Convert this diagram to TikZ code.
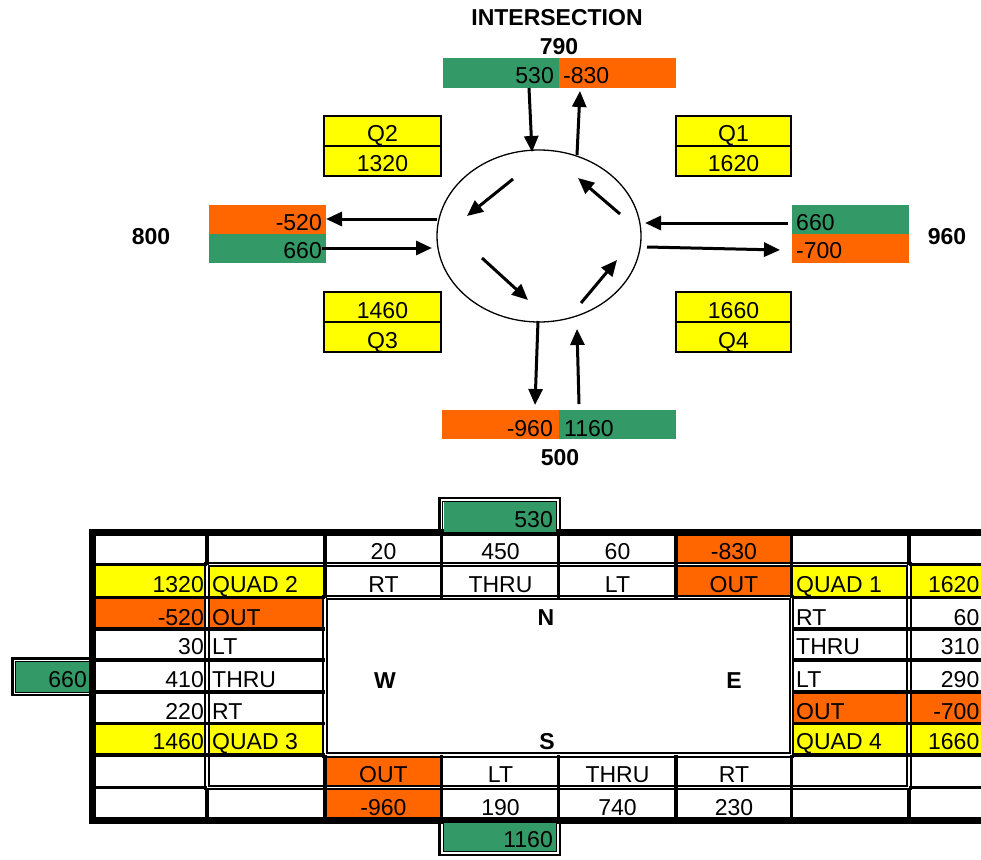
\documentclass[tikz,border=0pt]{standalone}
\usepackage{fontspec}
\setmainfont{Liberation Sans}
\usetikzlibrary{arrows.meta,shapes.geometric}
\definecolor{xgreen}{HTML}{339966}
\definecolor{xorange}{HTML}{FF6600}
\definecolor{xyellow}{HTML}{FFFF00}
\begin{document}
\begin{tikzpicture}[x=1pt,y=-1pt,
  lbl/.style={font=\fontsize{23}{27}\selectfont, inner sep=0pt, anchor=base},
  lblr/.style={lbl, anchor=base east},
  lbll/.style={lbl, anchor=base west},
  boldlbl/.style={lbl, font=\fontsize{23}{27}\selectfont\bfseries},
  arr/.style={line width=3pt, -{Triangle[length=16pt,width=14pt]}},
  gline/.style={line width=3.2pt},
  dbl/.style={line width=2.1pt, double=white, double distance=1.5pt},
  qbox/.style={draw, line width=2.4pt, fill=xyellow}]
\useasboundingbox (0,0) rectangle (981,859);

% ---------- top diagram ----------
\node[boldlbl] (title) at (557,26) {INTERSECTION};
\node[boldlbl] (nval) at (559,55) {790};
\fill[xgreen] (443,58) rectangle (559,88);
\fill[xorange] (559,58) rectangle (676,88);
\node[lblr] (nin) at (554,83) {530};
\node[lbll] (nout) at (563,83) {-830};

\fill[xorange] (209,205) rectangle (326,234);
\fill[xgreen] (209,234) rectangle (326,263);
\node[lblr] (wout) at (322,230) {-520};
\node[lblr] (win) at (322,258) {660};
\node[boldlbl] (wval) at (151,244) {800};

\fill[xgreen] (792,205) rectangle (909,234);
\fill[xorange] (792,234) rectangle (909,263);
\node[lbll] (ein) at (796,230) {660};
\node[lbll] (eout) at (796,258) {-700};
\node[boldlbl] (eval) at (947,244) {960};

\fill[xorange] (442,410) rectangle (559,439);
\fill[xgreen] (559,410) rectangle (676,439);
\node[lblr] (sout) at (553,436) {-960};
\node[lbll] (sin) at (564,436) {1160};
\node[boldlbl] (sval) at (560,465) {500};

% quadrant boxes
\draw[qbox] (324,116) rectangle (441,146);
\draw[qbox] (324,146) rectangle (441,176);
\node[lbl] (q2a) at (382.5,141) {Q2};
\node[lbl] (q2b) at (382.5,171) {1320};
\draw[qbox] (676,116) rectangle (791,146);
\draw[qbox] (676,146) rectangle (791,176);
\node[lbl] (q1a) at (733.5,141) {Q1};
\node[lbl] (q1b) at (733.5,171) {1620};
\draw[qbox] (324,292) rectangle (441,322);
\draw[qbox] (324,322) rectangle (441,352);
\node[lbl] (q3a) at (382.5,318) {1460};
\node[lbl] (q3b) at (382.5,348) {Q3};
\draw[qbox] (676,292) rectangle (791,322);
\draw[qbox] (676,322) rectangle (791,352);
\node[lbl] (q4a) at (733.5,318) {1660};
\node[lbl] (q4b) at (733.5,348) {Q4};

% roundabout
\node[ellipse, draw, line width=1.3pt, minimum width=204pt, minimum height=172pt, inner sep=0pt] (rnd) at (539,236) {};

\coordinate (a1s) at (529,88);  \coordinate (a1e) at (532,152);
\coordinate (a2s) at (577,155); \coordinate (a2e) at (580,91);
\coordinate (a3s) at (538,321); \coordinate (a3e) at (535,405);
\coordinate (a4s) at (579,404); \coordinate (a4e) at (577,329);
\coordinate (a5s) at (437,219); \coordinate (a5e) at (326,219);
\coordinate (a6s) at (322,248); \coordinate (a6e) at (432,248);
\coordinate (a7s) at (788,223); \coordinate (a7e) at (645,223);
\coordinate (a8s) at (647,247); \coordinate (a8e) at (780,250);
\coordinate (i1s) at (513,179); \coordinate (i1e) at (467,216);
\coordinate (i2s) at (620,214); \coordinate (i2e) at (578,178);
\coordinate (i3s) at (482,258); \coordinate (i3e) at (528,300);
\coordinate (i4s) at (581,303); \coordinate (i4e) at (617,260);
\foreach \p in {a1,a2,a3,a4,a5,a6,a7,a8,i1,i2,i3,i4}
  \draw[arr] (\p s) -- (\p e);

% ---------- table ----------
\begin{scope}
\clip (0,0) rectangle (981,859);
% cell fills
\fill[xyellow] (92,564.5) rectangle (325,597.5);
\fill[xorange] (92,597.5) rectangle (325,629);
\fill[xyellow] (92,723.5) rectangle (325,755);
\fill[xorange] (676,532) rectangle (791.5,597.5);
\fill[xyellow] (791.5,564.5) rectangle (995,597.5);
\fill[xorange] (791.5,692) rectangle (995,723.5);
\fill[xyellow] (791.5,723.5) rectangle (995,755);
\fill[xorange] (325,755) rectangle (441.7,820);

% double-lined frames
\draw[dbl] (207,564.5) rectangle (909,787.5);
\draw[dbl] (325,597.5) rectangle (791.5,755);

% single grid lines
\draw[gline] (92,564.5) -- (207,564.5) (909,564.5) -- (995,564.5);
\draw[gline] (92,597.5) -- (325,597.5) (791.5,597.5) -- (995,597.5);
\foreach \yy in {629,660,692,723.5,755}
  \draw[gline] (92,\yy) -- (325,\yy) (791.5,\yy) -- (995,\yy);
\draw[gline] (92,787.5) -- (207,787.5) (909,787.5) -- (995,787.5);
\draw[gline] (207,532) -- (207,564.5) (207,787.5) -- (207,820);
\draw[gline] (909,532) -- (909,564.5) (909,787.5) -- (909,820);
\foreach \xx in {325,441.7,558.5,676,791.5}
  \draw[gline] (\xx,532) -- (\xx,597.5) (\xx,755) -- (\xx,820);

% thick outer border
\draw[line width=7pt] (995,532.5) -- (92.7,532.5) -- (92.7,820.5) -- (995,820.5);

% entry boxes
\fill[xgreen] (444,501) rectangle (556,532);
\draw[line width=0.8pt] (442.7,532) -- (442.7,501) -- (556.5,501) -- (556.5,532);
\draw[line width=2.4pt] (439.5,532) -- (439.5,497.8) -- (560,497.8) -- (560,532);
\node[lblr] (tin) at (553,527) {530};

\fill[xgreen] (444,823) rectangle (556,851);
\draw[line width=0.8pt] (443.3,823) -- (443.3,851.7) -- (556,851.7) -- (556,823);
\draw[line width=2.4pt] (439.5,823) -- (439.5,855) -- (560,855) -- (560,823);
\node[lblr] (bin) at (553,847) {1160};

\fill[xgreen] (15,661.5) rectangle (89,692);
\draw[line width=0.8pt] (89,661.5) -- (15,661.5) -- (15,692.5) -- (89,692.5);
\draw[line width=2.4pt] (89,658.5) -- (12.5,658.5) -- (12.5,695) -- (89,695);
\node[lblr] (lin) at (87,687) {660};
\end{scope}

% table texts
\node[lbl] (r0a) at (383.5,559) {20};
\node[lbl] (r0b) at (500.5,559) {450};
\node[lbl] (r0c) at (617.5,559) {60};
\node[lbl] (r0d) at (734,559) {-830};

\node[lblr] (r1a) at (204,592) {1320};
\node[lbll] (r1b) at (212,592) {QUAD 2};
\node[lbl] (r1c) at (383.5,592) {RT};
\node[lbl] (r1d) at (500.5,592) {THRU};
\node[lbl] (r1e) at (617.5,592) {LT};
\node[lbl] (r1f) at (734,592) {OUT};
\node[lbll] (r1g) at (796,592) {QUAD 1};
\node[lblr] (r1h) at (979.5,592) {1620};

\node[lblr] (r2a) at (204,625) {-520};
\node[lbll] (r2b) at (212,625) {OUT};
\node[boldlbl] (dirn) at (546,625) {N};
\node[lbll] (r2g) at (796,625) {RT};
\node[lblr] (r2h) at (979.5,625) {60};

\node[lblr] (r3a) at (204,654) {30};
\node[lbll] (r3b) at (212,654) {LT};
\node[lbll] (r3g) at (796,654) {THRU};
\node[lblr] (r3h) at (979.5,654) {310};

\node[lblr] (r4a) at (204,687) {410};
\node[lbll] (r4b) at (212,687) {THRU};
\node[boldlbl] (dirw) at (385,688) {W};
\node[boldlbl] (dire) at (734,688) {E};
\node[lbll] (r4g) at (796,687) {LT};
\node[lblr] (r4h) at (979.5,687) {290};

\node[lblr] (r5a) at (204,719) {220};
\node[lbll] (r5b) at (212,719) {RT};
\node[lbll] (r5g) at (796,719) {OUT};
\node[lblr] (r5h) at (979.5,719) {-700};

\node[lblr] (r6a) at (204,749) {1460};
\node[lbll] (r6b) at (212,749) {QUAD 3};
\node[boldlbl] (dirs) at (547,749) {S};
\node[lbll] (r6g) at (796,749) {QUAD 4};
\node[lblr] (r6h) at (979.5,749) {1660};

\node[lbl] (r7c) at (383.5,782) {OUT};
\node[lbl] (r7d) at (500.5,782) {LT};
\node[lbl] (r7e) at (617.5,782) {THRU};
\node[lbl] (r7f) at (734,782) {RT};

\node[lbl] (r8c) at (383.5,815) {-960};
\node[lbl] (r8d) at (500.5,815) {190};
\node[lbl] (r8e) at (617.5,815) {740};
\node[lbl] (r8f) at (734,815) {230};
\end{tikzpicture}
\end{document}
